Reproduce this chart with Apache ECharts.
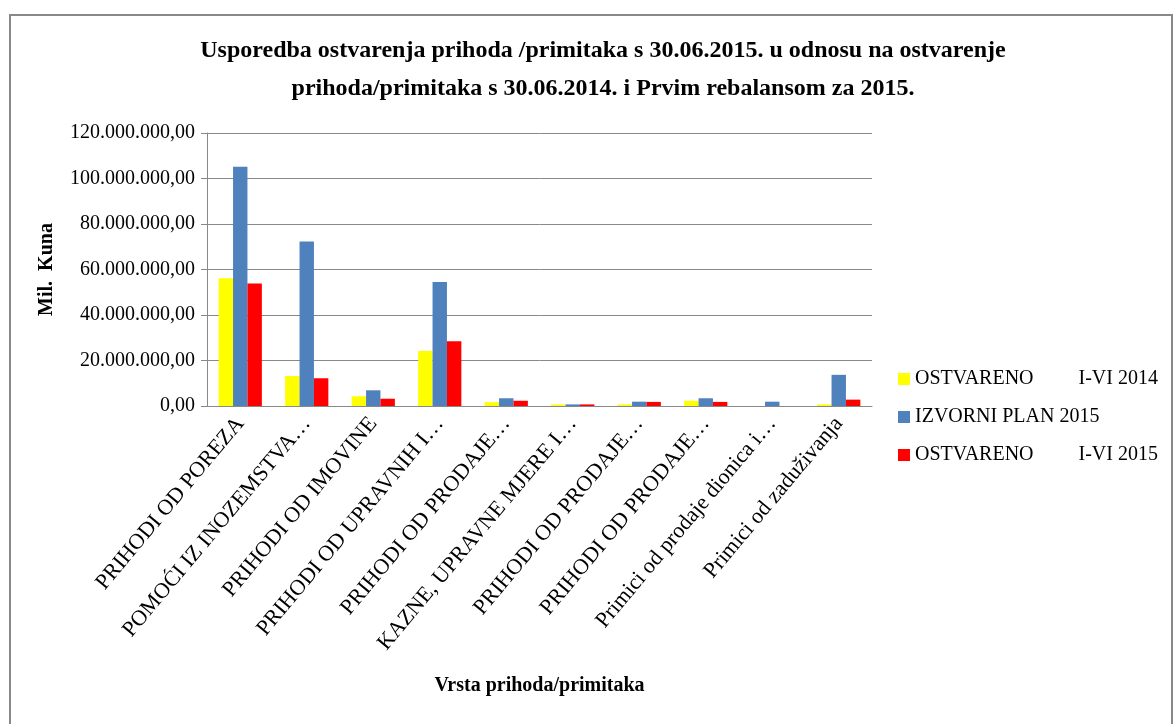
<!DOCTYPE html>
<html>
<head>
<meta charset="utf-8">
<script src="https://cdn.jsdelivr.net/npm/echarts@6/dist/echarts.min.js"></script>
<style>
  html, body { margin: 0; padding: 0; background: #fff; }
  #chart { width: 1174px; height: 724px; }
</style>
</head>
<body>
<div id="chart"></div>
<script>
const categories = [
  'PRIHODI OD POREZA',
  'POMOĆI IZ INOZEMSTVA…',
  'PRIHODI OD IMOVINE',
  'PRIHODI OD UPRAVNIH I…',
  'PRIHODI OD PRODAJE…',
  'KAZNE, UPRAVNE MJERE I…',
  'PRIHODI OD PRODAJE…',
  'PRIHODI OD PRODAJE…',
  'Primici od prodaje dionica i…',
  'Primici od zaduživanja'
]
const ostvareno2014 = [56100000, 13200000, 4300000, 24200000, 1700000, 700000, 700000, 2300000, 0, 700000]
const plan2015 = [105200000, 72300000, 6900000, 54500000, 3400000, 700000, 1900000, 3400000, 1900000, 13700000]
const ostvareno2015 = [53900000, 12200000, 3200000, 28500000, 2300000, 700000, 1800000, 1800000, 0, 2800000]

const seriesNames = ['OSTVARENO         I-VI 2014', 'IZVORNI PLAN 2015', 'OSTVARENO         I-VI 2015']
const font = 'Liberation Serif'

// 120000000 -> 120.000.000,00
const fmtKuna = (v) => {
  const parts = v.toFixed(2).split('.')
  return parts[0].replace(/\B(?=(\d{3})+(?!\d))/g, '.') + ',' + parts[1]
}

const chart = echarts.init(document.getElementById('chart'))

chart.setOption({
  backgroundColor: '#fff',
  animation: false,
  color: ['#FFFF00', '#4F81BD', '#FF0000'],
  graphic: [{
    type: 'rect',
    shape: { x: 10, y: 15, width: 1162, height: 720 },
    style: { fill: 'none', stroke: '#888', lineWidth: 2 }
  }],
  title: {
    text: 'Usporedba ostvarenja prihoda /primitaka s 30.06.2015. u odnosu na ostvarenje\nprihoda/primitaka s 30.06.2014. i Prvim rebalansom za 2015.',
    left: 598,
    textAlign: 'center',
    top: 27,
    textStyle: {
      fontFamily: font,
      fontWeight: 'bold',
      fontSize: 24,
      lineHeight: 38,
      color: '#000'
    }
  },
  legend: {
    orient: 'vertical',
    left: 893,
    top: 364,
    itemWidth: 12,
    itemHeight: 12,
    itemGap: 18,
    icon: 'rect',
    textStyle: { fontFamily: font, fontSize: 20, color: '#000' },
    data: seriesNames
  },
  grid: {
    left: 207,
    right: 302,
    top: 133,
    bottom: 318
  },
  xAxis: {
    type: 'category',
    data: categories,
    name: 'Vrsta prihoda/primitaka',
    nameLocation: 'middle',
    nameGap: 270,
    nameTextStyle: { fontFamily: font, fontWeight: 'bold', fontSize: 20, color: '#000' },
    axisLine: { lineStyle: { color: '#888', width: 1 } },
    axisTick: { show: false },
    axisLabel: {
      interval: 0,
      rotate: 50,
      margin: 14,
      fontFamily: font,
      fontSize: 22,
      color: '#000'
    }
  },
  yAxis: {
    type: 'value',
    min: 0,
    max: 120000000,
    interval: 20000000,
    name: 'Mil.  Kuna',
    nameLocation: 'middle',
    nameGap: 150,
    nameRotate: 90,
    nameTextStyle: { fontFamily: font, fontWeight: 'bold', fontSize: 20, color: '#000' },
    axisLine: { show: true, lineStyle: { color: '#888' } },
    axisTick: { show: true, inside: false, length: 6, lineStyle: { color: '#888' } },
    axisLabel: {
      formatter: fmtKuna,
      fontFamily: font,
      fontSize: 20,
      color: '#000',
      margin: 12
    },
    splitLine: { lineStyle: { color: '#888' } }
  },
  series: [
    { name: seriesNames[0], type: 'bar', data: ostvareno2014, barGap: '0%', barCategoryGap: '35%' },
    { name: seriesNames[1], type: 'bar', data: plan2015, barGap: '0%', barCategoryGap: '35%' },
    { name: seriesNames[2], type: 'bar', data: ostvareno2015, barGap: '0%', barCategoryGap: '35%' }
  ]
})
</script>
</body>
</html>
